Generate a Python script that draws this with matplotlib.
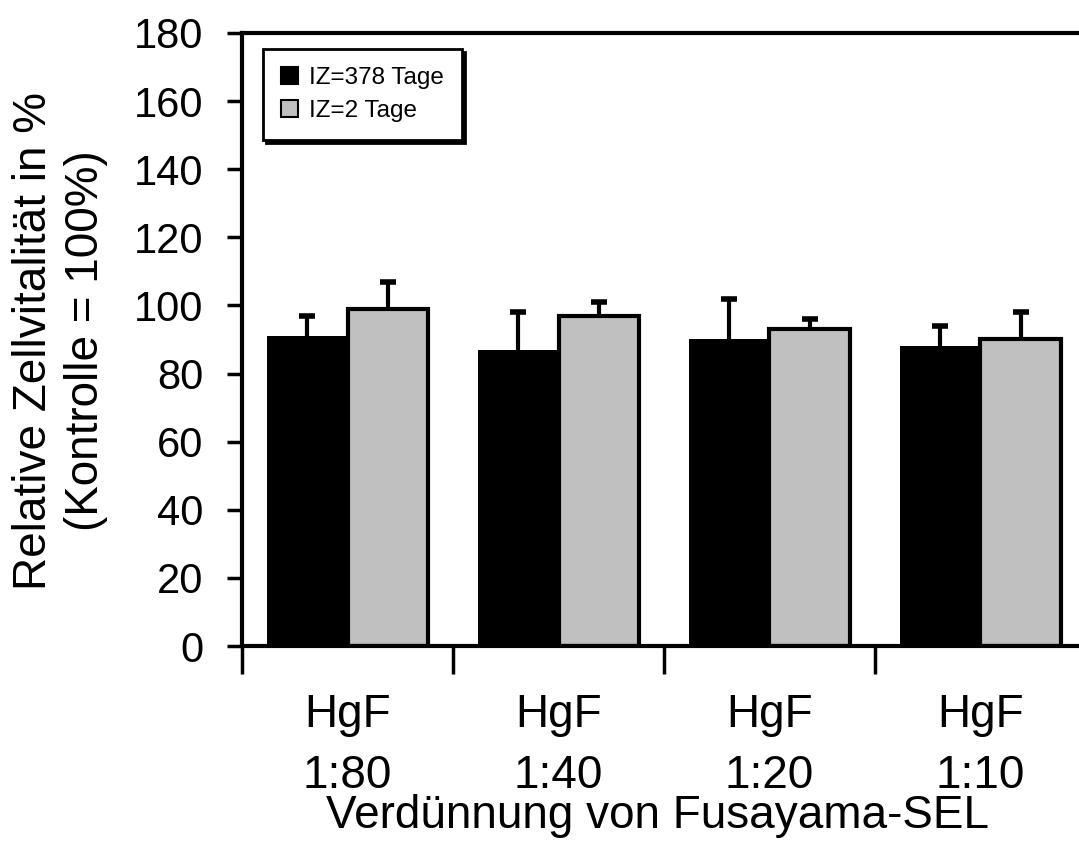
import matplotlib
matplotlib.use("Agg")
import matplotlib.pyplot as plt
import numpy as np

plt.rcParams['font.family'] = ['Liberation Sans', 'DejaVu Sans']

categories = ['HgF\n1:80', 'HgF\n1:40', 'HgF\n1:20', 'HgF\n1:10']
iz378 = [91, 87, 90, 88]
iz378_err = [6, 11, 12, 6]
iz2 = [99, 97, 93, 90]
iz2_err = [8, 4, 3, 8]

fig = plt.figure(figsize=(10.79, 8.43), dpi=100)
ax = fig.add_axes([242 / 1079, 197 / 843, 837 / 1079, 613 / 843])

x = np.arange(len(categories)) + 0.5
w = 0.38
ax.bar(x - w / 2, iz378, w, color='black', edgecolor='black', linewidth=0,
       label='IZ=378 Tage', zorder=2)
ax.bar(x + w / 2, iz2, w, color='#c0c0c0', edgecolor='black', linewidth=3,
       label='IZ=2 Tage', zorder=2)

# error bars: only the upper half, with a cap at the top
for xs, vals, errs in [(x - w / 2, iz378, iz378_err), (x + w / 2, iz2, iz2_err)]:
    tops = np.array(vals) + np.array(errs)
    ax.vlines(xs, vals, tops, color='black', linewidth=3, zorder=3)
    ax.plot(xs, tops, linestyle='none', marker='_', markersize=11,
            markeredgewidth=4, color='black', zorder=3)

ax.set_xlim(0, 837 / 211)
ax.set_ylim(0, 180)
ax.set_yticks(np.arange(0, 181, 20))
ax.set_xticks(np.arange(0, 4))
ax.set_xticks(x, minor=True)
ax.set_xticklabels([])
ax.set_xticklabels(categories, minor=True, fontsize=33, linespacing=1.5)
ax.tick_params(axis='x', which='minor', length=0, pad=34)
ax.tick_params(axis='x', which='major', length=20, width=2.5, direction='out')
ax.tick_params(axis='y', length=11, width=2.5, labelsize=30, pad=17)

for s in ['left', 'bottom', 'top']:
    ax.spines[s].set_linewidth(3)
ax.spines['right'].set_visible(False)

ax.set_xlabel('Verdünnung von Fusayama-SEL', fontsize=33, va='top')
ax.xaxis.set_label_coords(0.497, -0.2414)
fig.text(60 / 1079, 0.5955, 'Relative Zellvitalität in %\n(Kontrolle = 100%)',
         rotation=90, ha='center', va='center', fontsize=33, linespacing=1.24)

leg = ax.legend(loc='upper left', bbox_to_anchor=(21 / 837, 1 - 16 / 613),
                fontsize=17.5, frameon=True, fancybox=False, handlelength=0.68,
                handleheight=0.68, handletextpad=0.45, borderpad=0.75,
                borderaxespad=0, labelspacing=0.45,
                shadow={'color': 'black', 'alpha': 1})
leg.get_frame().set_edgecolor('black')
leg.get_frame().set_linewidth(2)
for h in leg.legend_handles:
    h.set_linewidth(1.5)

fig.savefig('out.png', dpi=100)
